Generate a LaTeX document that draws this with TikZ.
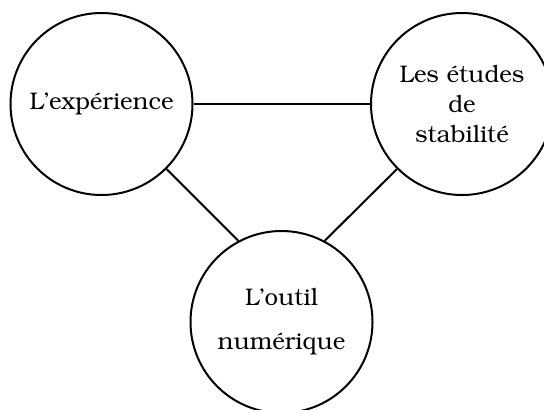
\documentclass[tikz,border=0pt]{standalone}
\usepackage[T1]{fontenc}
\usepackage{bookman}
\tikzset{
  topic/.style={draw,circle,line width=1pt,minimum size=91pt,inner sep=0pt,
    align=center,font=\fontsize{12}{15}\selectfont},
  link/.style={line width=1pt}
}
\begin{document}
\begin{tikzpicture}[x=0.5pt,y=-0.5pt]
    \useasboundingbox (0,0) rectangle (544,409);
    \node[topic] (exp) at (101.5,104) {L'expérience};
    \node[topic] (stab) at (462,104) {Les études\\de\\stabilité};
    \node[topic] (num) at (281.5,322) {L'outil\\[7pt]numérique};
    \draw[link] (exp) -- (stab);
    \draw[link] (exp.-45) -- (num.118);
    \draw[link] (stab.225) -- (num.62);
  \end{tikzpicture}
\end{document}
